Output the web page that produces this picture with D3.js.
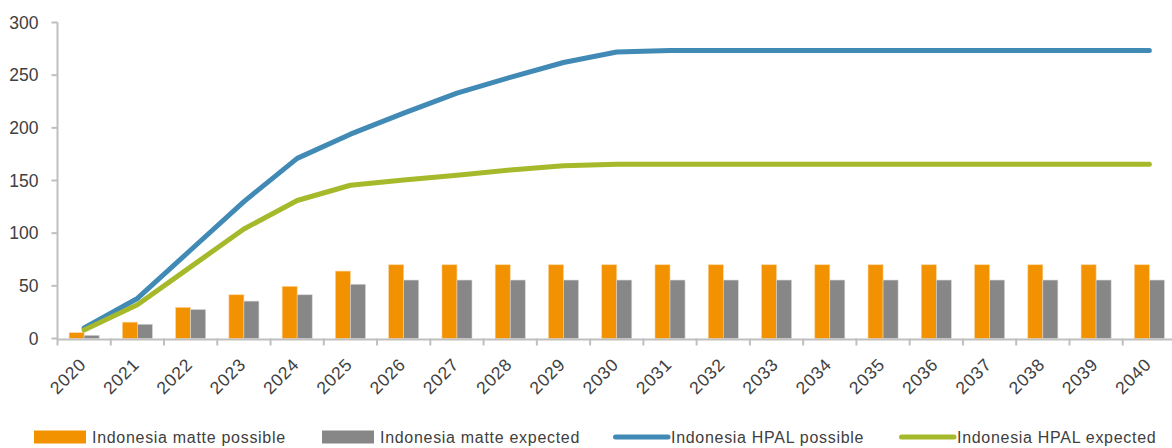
<!DOCTYPE html>
<html>
<head>
<meta charset="utf-8">
<script src="https://cdn.jsdelivr.net/npm/d3@7"></script>
<style>
  body { margin: 0; background: #fff; }
  svg { display: block; }
  text { font-family: "Liberation Sans", Arial, sans-serif; fill: #404040; }
</style>
</head>
<body>
<div id="chart"></div>
<script>
// data
var years = ["2020","2021","2022","2023","2024","2025","2026","2027","2028","2029","2030",
             "2031","2032","2033","2034","2035","2036","2037","2038","2039","2040"];
var mattePossible = [5.5, 15.5, 29.5, 41.5, 49.5, 64, 70, 70, 70, 70, 70,
                     70, 70, 70, 70, 70, 70, 70, 70, 70, 70];
var matteExpected = [3, 13.5, 27.5, 35.5, 41.5, 51.5, 55.5, 55.5, 55.5, 55.5, 55.5,
                     55.5, 55.5, 55.5, 55.5, 55.5, 55.5, 55.5, 55.5, 55.5, 55.5];
var hpalPossible = [10, 38, 84, 130, 171, 194, 214, 233, 248, 262, 272,
                    273.5, 273.5, 273.5, 273.5, 273.5, 273.5, 273.5, 273.5, 273.5, 273.5];
var hpalExpected = [8, 32, 68, 104, 131, 145.5, 150.5, 155, 160, 164, 165.5,
                    165.5, 165.5, 165.5, 165.5, 165.5, 165.5, 165.5, 165.5, 165.5, 165.5];
var yTicks = [0, 50, 100, 150, 200, 250, 300];
var legendNames = ["Indonesia matte possible", "Indonesia matte expected",
                   "Indonesia HPAL possible", "Indonesia HPAL expected"];

var W = 1172, H = 448;
var colors = { orange: "#f39200", gray: "#878787", blue: "#418ab6", green: "#a6b92b", axis: "#bfbfbf" };

var svg = d3.select("#chart").append("svg")
    .attr("width", W)
    .attr("height", H);

var x = d3.scaleBand().domain(years).range([57.5, 1176]).paddingInner(0).paddingOuter(0);
var y = d3.scaleLinear().domain([0, 300]).range([338.5, 22.5]);
var barW = x.bandwidth() * 0.282;

// y axis
svg.append("line")
    .attr("x1", x.range()[0]).attr("x2", x.range()[0])
    .attr("y1", y(300)).attr("y2", y(0))
    .style("stroke", colors.axis).style("stroke-width", 2);
svg.selectAll(".ytick")
    .data(yTicks)
    .enter().append("line")
    .attr("x1", x.range()[0] - 6).attr("x2", x.range()[0])
    .attr("y1", function(d){ return y(d); })
    .attr("y2", function(d){ return y(d); })
    .style("stroke", colors.axis).style("stroke-width", 2);
svg.selectAll(".ylabel")
    .data(yTicks)
    .enter().append("text")
    .text(function(d){ return d; })
    .attr("x", 38.5)
    .attr("y", function(d){ return y(d) + 6; })
    .style("text-anchor", "end")
    .style("font-size", "17.5px");

// bars
var groups = svg.selectAll(".yr")
    .data(years)
    .enter().append("g")
    .attr("transform", function(d){ return "translate(" + (x(d) + x.bandwidth()/2) + ",0)"; });
groups.append("rect")
    .attr("x", -barW)
    .attr("y", function(d,i){ return y(mattePossible[i]); })
    .attr("width", barW)
    .attr("height", function(d,i){ return y(0) - y(mattePossible[i]); })
    .style("fill", colors.orange)
    .style("stroke", "#fbd29a").style("stroke-width", 0.6);
groups.append("rect")
    .attr("x", 0)
    .attr("y", function(d,i){ return y(matteExpected[i]); })
    .attr("width", barW)
    .attr("height", function(d,i){ return y(0) - y(matteExpected[i]); })
    .style("fill", colors.gray)
    .style("stroke", "#d4d4d4").style("stroke-width", 0.6);

// x axis
svg.append("line")
    .attr("x1", x.range()[0]).attr("x2", W)
    .attr("y1", y(0) + 1).attr("y2", y(0) + 1)
    .style("stroke", colors.axis).style("stroke-width", 2);
svg.selectAll(".xtick")
    .data(years)
    .enter().append("line")
    .attr("x1", function(d){ return x(d); })
    .attr("x2", function(d){ return x(d); })
    .attr("y1", y(0)).attr("y2", y(0) + 7)
    .style("stroke", colors.axis).style("stroke-width", 2);
svg.selectAll(".xlabel")
    .data(years)
    .enter().append("text")
    .text(function(d){ return d; })
    .attr("transform", function(d){ return "translate(" + (x(d) + x.bandwidth()/2 + 3) + "," + (y(0) + 27) + ") rotate(-45)"; })
    .style("text-anchor", "end")
    .style("font-size", "17.5px")
    .style("letter-spacing", "0.8px");

// lines
var line = d3.line()
    .x(function(d,i){ return x(years[i]) + x.bandwidth()/2; })
    .y(function(d){ return y(d); });
[[hpalPossible, colors.blue], [hpalExpected, colors.green]].forEach(function(s){
    svg.append("path")
        .datum(s[0])
        .attr("d", line)
        .style("fill", "none")
        .style("stroke", s[1])
        .style("stroke-width", 5)
        .style("stroke-linecap", "round")
        .style("stroke-linejoin", "round");
});

// legend
var legendX = [34, 322, 613, 899];
var legendTypes = ["rect", "rect", "line", "line"];
var legendColors = [colors.orange, colors.gray, colors.blue, colors.green];
var legendY = 437;
legendNames.forEach(function(name, i){
    if (legendTypes[i] === "rect") {
        svg.append("rect")
            .attr("x", legendX[i]).attr("y", legendY - 6.5)
            .attr("width", 52).attr("height", 13)
            .style("fill", legendColors[i]);
    } else {
        svg.append("line")
            .attr("x1", legendX[i] + 2.5).attr("x2", legendX[i] + 55)
            .attr("y1", legendY).attr("y2", legendY)
            .style("stroke", legendColors[i])
            .style("stroke-width", 5)
            .style("stroke-linecap", "round");
    }
    svg.append("text")
        .text(name)
        .attr("x", legendX[i] + 58)
        .attr("y", legendY + 6)
        .style("font-size", "16px")
        .style("letter-spacing", "0.7px");
});
</script>
</body>
</html>
